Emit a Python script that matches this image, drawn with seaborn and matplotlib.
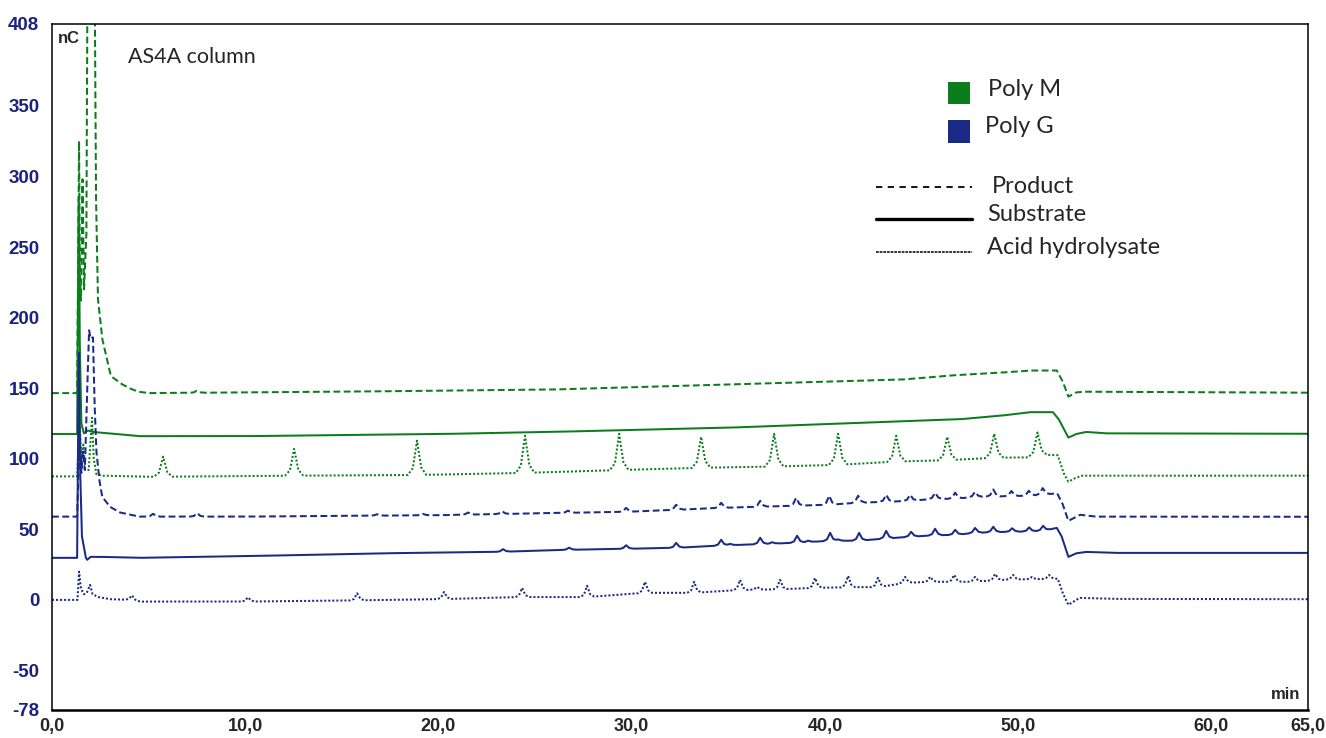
import numpy as np
import pandas as pd
import matplotlib
matplotlib.use("Agg")
import matplotlib.pyplot as plt
from matplotlib.patches import Rectangle
from matplotlib.lines import Line2D
from matplotlib.ticker import FixedLocator, FuncFormatter, MultipleLocator
import seaborn as sns

# ---------------------------------------------------------------------------
# Chromatogram data (time in min, signal in nC)
# Each trace: baseline knots (incl. injection disturbance and the gradient
# step near 52 min) plus oligomer peaks given as (retention time, height).
# ---------------------------------------------------------------------------

# Poly M – product (green, dashed)
m_prod_base_t = [0, 1.30, 1.36, 1.40, 1.44, 1.50, 1.58, 1.66, 1.78, 1.86, 2.17, 2.28, 2.38,
                 2.60, 3.00, 3.10, 3.60, 4.00, 4.45, 5.00, 15.0, 25.8, 33.5, 38.7, 43.9,
                 46.5, 49.1, 50.6, 52.0, 52.3, 52.6, 53.0, 53.4, 65.0]
m_prod_base_v = [146.5, 146.5, 250, 325, 230, 212, 298, 220, 260, 520, 520, 284, 213,
                 185, 161, 158, 153, 150, 147.5, 146.5, 147.5, 149, 152, 154, 156,
                 159, 161, 162.5, 162.5, 155, 144, 147, 147.5, 146.8]
m_prod_peak_t = [7.5]
m_prod_peak_h = [1.5]

# Poly M – substrate (green, solid)
m_sub_base_t = [0, 1.30, 1.34, 1.38, 1.44, 1.52, 1.65, 1.85, 2.10, 2.50, 4.50, 10.0, 20.0,
                25.8, 35.0, 42.0, 47.0, 49.1, 50.6, 51.8, 52.1, 52.6, 53.0, 53.5, 54.5, 65.0]
m_sub_base_v = [117.5, 117.5, 200, 285, 180, 125, 118, 120, 119, 118.5, 116, 116, 117.5,
                119, 122, 125.5, 128, 130.5, 133, 133, 128, 115, 117.5, 119, 118, 117.7]
m_sub_peak_t = []
m_sub_peak_h = []

# Poly M – acid hydrolysate (green, dotted)
m_acid_base_t = [0, 1.30, 1.38, 1.45, 1.52, 1.62, 1.72, 1.90, 2.00, 2.07, 2.16, 2.30, 2.60,
                 5.00, 12.5, 19.0, 24.5, 29.4, 33.6, 37.4, 40.7, 43.7, 46.3, 48.8, 50.6,
                 51.4, 52.05, 52.35, 52.6, 52.9, 53.3, 65.0]
m_acid_base_v = [87.5, 87.5, 112, 122, 96, 110, 93, 92, 115, 129, 100, 89, 88,
                 87.2, 88, 88.5, 90, 92, 93.6, 94.5, 95.7, 98, 99, 100.7, 101,
                 102.8, 102.5, 90, 83.7, 86, 88, 88]
m_acid_peak_t = [5.75, 12.53, 18.89, 24.48, 29.35, 33.59, 37.37, 40.68, 43.69, 46.33, 48.76, 51.0]
m_acid_peak_h = [14.2, 19.0, 24.3, 26.3, 25.7, 22.0, 23.2, 22.0, 18.3, 16.6, 17.0, 16.7]

# Poly G – product (blue, dashed)
g_prod_base_t = [0, 1.30, 1.38, 1.45, 1.52, 1.60, 1.70, 1.80, 1.92, 2.00, 2.12, 2.20, 2.30,
                 2.45, 2.60, 3.00, 3.50, 4.50, 10.0, 20.0, 25.8, 29.7, 32.3, 34.6, 36.65,
                 38.5, 40.2, 41.7, 43.2, 44.4, 45.7, 46.7, 47.8, 50.6, 51.6, 52.02, 52.3,
                 52.6, 53.2, 54.0, 65.0]
g_prod_base_v = [59, 59, 95, 115, 90, 105, 92, 140, 191, 185, 186, 140, 105,
                 85, 73, 66, 62, 59, 59, 60, 61.5, 62.4, 63.8, 65.2, 66,
                 66.7, 67.4, 68.8, 69.5, 70.2, 71.6, 71.6, 73, 73.8, 75, 75.5, 68,
                 56, 60.3, 59, 58.9]
g_prod_peak_t = [5.23, 7.51, 16.82, 19.20, 21.53, 23.29, 26.70, 29.71, 32.30, 34.63, 36.65,
                 38.51, 40.22, 41.72, 43.17, 44.41, 45.70, 46.74, 47.77, 48.71, 49.65,
                 50.55, 51.27]
g_prod_peak_h = [2.0, 2.5, 1.0, 1.0, 1.5, 2.0, 1.5, 2.8, 3.6, 3.6, 4.2,
                 5.6, 6.4, 5.0, 5.0, 4.3, 4.3, 4.3, 3.6, 5.0, 3.6,
                 3.5, 4.6]

# Poly G – substrate (blue, solid)
g_sub_base_t = [0, 1.30, 1.35, 1.40, 1.46, 1.55, 1.62, 1.75, 1.82, 2.00, 2.50, 4.50, 10.0,
                17.0, 23.0, 26.8, 29.7, 32.3, 34.6, 36.65, 38.5, 40.2, 41.8, 43.2, 44.4,
                45.7, 46.7, 47.8, 48.7, 50.6, 51.3, 52.0, 52.25, 52.6, 53.0, 53.5, 55.0, 65.0]
g_sub_base_v = [29.8, 29.8, 120, 175, 90, 45, 40, 30, 28.4, 30.5, 30.5, 29.8, 31,
                33, 34, 35.5, 36.2, 36.9, 38.5, 39.5, 40.5, 41.8, 42, 43.5, 44.7,
                45.8, 46, 47.5, 48, 48.5, 49, 51, 45, 30.5, 33, 34, 33.3, 33.3]
g_sub_peak_t = [23.34, 26.76, 29.71, 32.30, 34.63, 35.09, 36.65, 37.27, 38.56, 39.13, 40.27,
                40.68, 41.77, 43.17, 44.46, 45.70, 46.74, 47.77, 48.71, 49.69, 50.57, 51.29]
g_sub_peak_h = [1.8, 1.5, 2.5, 3.5, 4.1, 1.0, 4.5, 1.0, 4.9, 1.0, 5.7,
                1.0, 5.5, 5.4, 3.5, 4.6, 3.6, 3.5, 3.8, 2.5, 2.9, 3.5]

# Poly G – acid hydrolysate (blue, dotted)
g_acid_base_t = [0, 1.32, 1.40, 1.50, 1.65, 1.80, 1.97, 2.10, 2.40, 3.00, 4.00, 4.60, 10.0,
                 15.0, 20.0, 24.3, 27.7, 30.7, 33.2, 35.6, 37.7, 39.5, 41.2, 42.75, 44.15,
                 45.45, 47.8, 48.8, 49.7, 50.7, 51.7, 52.05, 52.3, 52.6, 53.0, 53.2, 55.0,
                 65.0]
g_acid_base_v = [0, 0, 20, 8, 4, 5, 10.6, 4, 2, 0.5, 0, -1.2, -1.2,
                 -0.5, 0.5, 2, 2, 5, 5, 7, 7.5, 8.5, 9, 9, 12,
                 12.8, 12.8, 14, 14.5, 14.5, 15, 15, 5, -3.5, 0, 1.4, 0.7,
                 0.5]
g_acid_peak_t = [4.14, 10.14, 15.79, 20.29, 24.33, 27.69, 30.69, 33.23, 35.61, 36.49, 37.68,
                 39.49, 41.20, 42.75, 44.15, 45.45, 46.69, 47.77, 48.81, 49.74, 50.72, 51.60]
g_acid_peak_h = [3.5, 3.0, 5.0, 5.0, 6.5, 8.0, 7.8, 7.8, 7.2, 2.0, 6.7,
                 7.0, 8.0, 6.6, 4.3, 3.5, 4.9, 3.5, 4.4, 3.2, 1.8, 2.7]

polymers = ["Poly M", "Poly G"]
samples = ["Product", "Substrate", "Acid hydrolysate"]

# ---------------------------------------------------------------------------
# Rendering helpers
# ---------------------------------------------------------------------------
time_grid = np.arange(0.0, 65.0 + 1e-9, 0.01)
# sharp, slightly tailing peak profile (relative offset / relative height)
profile_x = [-1.0, -0.45, 0.0, 0.45, 1.0]
profile_y = [0.0, 0.20, 1.0, 0.22, 0.0]


def trace(base_t, base_v, peak_t, peak_h, half_width):
    y = np.interp(time_grid, base_t, base_v)
    for t0, h in zip(peak_t, peak_h):
        y = y + h * np.interp((time_grid - t0) / half_width, profile_x, profile_y,
                              left=0.0, right=0.0)
    return y


traces = [
    ("Poly M", "Product", m_prod_base_t, m_prod_base_v, m_prod_peak_t, m_prod_peak_h, 0.35),
    ("Poly M", "Substrate", m_sub_base_t, m_sub_base_v, m_sub_peak_t, m_sub_peak_h, 0.35),
    ("Poly M", "Acid hydrolysate", m_acid_base_t, m_acid_base_v, m_acid_peak_t, m_acid_peak_h, 0.48),
    ("Poly G", "Product", g_prod_base_t, g_prod_base_v, g_prod_peak_t, g_prod_peak_h, 0.36),
    ("Poly G", "Substrate", g_sub_base_t, g_sub_base_v, g_sub_peak_t, g_sub_peak_h, 0.36),
    ("Poly G", "Acid hydrolysate", g_acid_base_t, g_acid_base_v, g_acid_peak_t, g_acid_peak_h, 0.36),
]

frames = []
for poly, sample, bt, bv, pt, ph, hw in traces:
    frames.append(pd.DataFrame({"time": time_grid,
                                "signal": trace(bt, bv, pt, ph, hw),
                                "polymer": poly,
                                "sample": sample}))
data = pd.concat(frames, ignore_index=True)

# ---------------------------------------------------------------------------
# Figure
# ---------------------------------------------------------------------------
sns.set_style("white")
plt.rcParams["font.family"] = ["Liberation Sans", "DejaVu Sans"]

green = "#0c7d1c"
navy = "#1b2a84"
axis_navy = "#1a237e"

fig = plt.figure(figsize=(13.26, 7.38), dpi=100)
ax = fig.add_axes([52 / 1326, 1 - 710 / 738, 1256 / 1326, 686 / 738])

sns.lineplot(data=data, x="time", y="signal", hue="polymer", style="sample",
             hue_order=polymers, style_order=samples,
             palette={"Poly M": green, "Poly G": navy},
             dashes={"Product": (3.4, 1.7), "Substrate": "", "Acid hydrolysate": (1.0, 1.0)},
             estimator=None, sort=False, linewidth=1.45, legend=False, ax=ax)

ax.set_xlim(0, 65)
ax.set_ylim(-78, 408)
ax.set_xlabel("")
ax.set_ylabel("")

# ticks
x_major = [0, 10, 20, 30, 40, 50, 60, 65]
y_major = [-78, -50, 0, 50, 100, 150, 200, 250, 300, 350, 408]
ax.xaxis.set_major_locator(FixedLocator(x_major))
ax.xaxis.set_minor_locator(MultipleLocator(2.5))
ax.yaxis.set_major_locator(FixedLocator(y_major))
ax.yaxis.set_minor_locator(FixedLocator([v for v in range(-70, 408, 10) if v % 50]))
ax.xaxis.set_major_formatter(FuncFormatter(lambda v, p: f"{v:.1f}".replace(".", ",")))
ax.yaxis.set_major_formatter(FuncFormatter(lambda v, p: f"{v:.0f}"))
ax.tick_params(axis="y", which="major", direction="out", length=6, width=1.1,
               labelsize=13.5, labelcolor=axis_navy, pad=3)
ax.tick_params(axis="x", which="major", direction="out", length=5, width=1.1,
               labelsize=13, pad=1)
ax.tick_params(axis="both", which="minor", direction="out", length=3.5, width=0.9)
for lbl in ax.get_xticklabels() + ax.get_yticklabels():
    lbl.set_fontweight("bold")

for side in ["left", "right", "top"]:
    ax.spines[side].set_visible(True)
    ax.spines[side].set_color("black")
    ax.spines[side].set_linewidth(1.1)
ax.spines["bottom"].set_color("black")
ax.spines["bottom"].set_linewidth(1.8)

# axis units inside the frame
ax.text(0.005, 0.979, "nC", transform=ax.transAxes, ha="left", va="center",
        fontsize=12, fontweight="bold")
ax.text(0.994, 0.022, "min", transform=ax.transAxes, ha="right", va="center",
        fontsize=12, fontweight="bold")

text_family = ["Lato", "DejaVu Sans"]
ax.text(0.0605, 0.952, "AS4A column", transform=ax.transAxes, ha="left", va="center",
        fontsize=15.5, family=text_family)

# legend: polymer colours
for (y0, y1), col, name, tx, ty in [((0.8834, 0.9155), green, "Poly M", 0.7452, 0.9038),
                                    ((0.8265, 0.8601), navy, "Poly G", 0.7428, 0.8499)]:
    ax.add_patch(Rectangle((0.7134, y0), 0.0175, y1 - y0, transform=ax.transAxes,
                           facecolor=col, edgecolor="none", clip_on=False))
    ax.text(tx, ty, name, transform=ax.transAxes, ha="left", va="center",
            fontsize=17, family=text_family)

# legend: sample line styles
for ls, lw, yy, name, tx, ty in [((0, (3.5, 3.0)), 1.3, 0.7624, "Product", 0.7484, 0.7638),
                                 ("-", 2.4, 0.7157, "Substrate", 0.7444, 0.7230),
                                 ((0, (1.8, 0.6)), 1.1, 0.6676, "Acid hydrolysate", 0.7444, 0.6735)]:
    ax.add_line(Line2D([0.6560, 0.7325], [yy, yy], transform=ax.transAxes,
                       color="black", linestyle=ls, linewidth=lw, clip_on=False))
    ax.text(tx, ty, name, transform=ax.transAxes, ha="left", va="center",
            fontsize=17, family=text_family)

fig.savefig("out.png", dpi=100)
